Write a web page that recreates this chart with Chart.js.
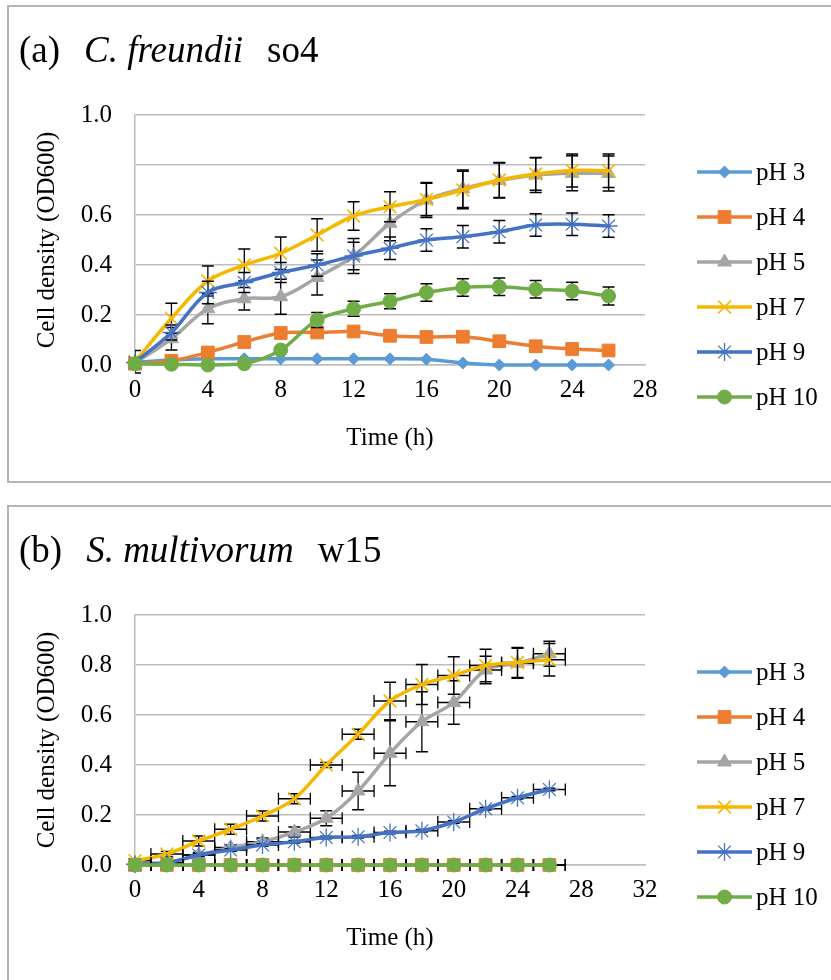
<!DOCTYPE html>
<html>
<head>
<meta charset="utf-8">
<script src="https://cdn.jsdelivr.net/npm/chart.js@4.4.1/dist/chart.umd.min.js"></script>
<style>
  body { margin: 0; width: 831px; height: 980px; overflow: hidden; background: #fff; position: relative; }
  .panel { position: absolute; left: 7px; width: 900px; border: 2px solid #b4b4b4; box-sizing: border-box; }
  canvas { position: absolute; left: 0; }
</style>
</head>
<body>
<div class="panel" style="top:5px; height:478px;"></div>
<div class="panel" style="top:505px; height:600px;"></div>
<canvas id="chartA" width="831" height="500" style="top:0px;"></canvas>
<canvas id="chartB" width="831" height="500" style="top:500px;"></canvas>
<script>
// sampling times (h)
const sampleTimes = [0, 2, 4, 6, 8, 10, 12, 14, 16, 18, 20, 22, 24, 26];
const seriesLabels = ['pH 3', 'pH 4', 'pH 5', 'pH 7', 'pH 9', 'pH 10'];

// (a) C. freundii so4 - OD600
const a_pH3  = [0.01, 0.02, 0.025, 0.025, 0.025, 0.025, 0.025, 0.025, 0.023, 0.008, 0, 0, 0, 0];
const a_pH4  = [0.005, 0.017, 0.05, 0.092, 0.128, 0.13, 0.134, 0.117, 0.112, 0.113, 0.095, 0.075, 0.064, 0.058];
const a_pH5  = [0.008, 0.105, 0.225, 0.265, 0.273, 0.35, 0.436, 0.567, 0.66, 0.705, 0.738, 0.76, 0.767, 0.766];
const a_pH7  = [0.013, 0.187, 0.336, 0.4, 0.447, 0.52, 0.596, 0.633, 0.662, 0.7, 0.74, 0.764, 0.778, 0.777];
const a_pH9  = [0.01, 0.13, 0.29, 0.33, 0.37, 0.4, 0.436, 0.467, 0.5, 0.513, 0.533, 0.56, 0.563, 0.556];
const a_pH10 = [0.005, 0.003, 0, 0.005, 0.06, 0.18, 0.225, 0.255, 0.29, 0.31, 0.313, 0.303, 0.296, 0.276];
// (a) standard deviations
const a_err5  = [0.01, 0.045, 0.06, 0.045, 0.07, 0.07, 0.07, 0.07, 0.07, 0.075, 0.07, 0.07, 0.07, 0.07];
const a_err7  = [0.045, 0.06, 0.06, 0.064, 0.065, 0.065, 0.057, 0.06, 0.065, 0.075, 0.07, 0.065, 0.066, 0.067];
const a_err9  = [0.02, 0.03, 0.045, 0.04, 0.04, 0.045, 0.055, 0.045, 0.045, 0.045, 0.045, 0.045, 0.045, 0.045];
const a_err10 = [0, 0, 0, 0, 0.01, 0.03, 0.03, 0.03, 0.035, 0.035, 0.035, 0.035, 0.035, 0.036];

// (b) S. multivorum w15 - OD600
const b_pH3  = [0, 0, 0, 0, 0, 0, 0, 0, 0, 0, 0, 0, 0, 0];
const b_pH4  = [0, 0, 0, 0, 0, 0, 0, 0, 0, 0, 0, 0, 0, 0];
const b_pH5  = [0.003, 0.01, 0.04, 0.07, 0.093, 0.132, 0.187, 0.296, 0.447, 0.573, 0.65, 0.78, 0.807, 0.845];
const b_pH7  = [0.017, 0.044, 0.096, 0.143, 0.196, 0.265, 0.4, 0.523, 0.656, 0.722, 0.758, 0.798, 0.81, 0.821];
const b_pH9  = [0.003, 0.008, 0.04, 0.06, 0.08, 0.093, 0.11, 0.113, 0.13, 0.137, 0.172, 0.225, 0.269, 0.302];
const b_pH10 = [0, 0, 0, 0, 0, 0, 0, 0, 0, 0, 0, 0, 0, 0];
const b_err5 = [0, 0.005, 0.01, 0.01, 0.015, 0.02, 0.03, 0.075, 0.13, 0.12, 0.087, 0.055, 0.06, 0.05];
const b_err7 = [0.005, 0.01, 0.02, 0.02, 0.02, 0.02, 0.01, 0.02, 0.075, 0.08, 0.075, 0.065, 0.06, 0.065];
const b_err9 = [0, 0.005, 0.005, 0.005, 0.005, 0.005, 0.005, 0.005, 0.005, 0.005, 0.005, 0.005, 0.005, 0.005];
const b_timeErr = 1; // +/- 1 h on every point

// tick labels
const a_yTicks = ['0.0', '0.2', '0.4', '0.6', '', '1.0'];
const b_yTicks = ['0.0', '0.2', '0.4', '0.6', '0.8', '1.0'];
const a_xTicks = ['0', '4', '8', '12', '16', '20', '24', '28'];
const b_xTicks = ['0', '4', '8', '12', '16', '20', '24', '28', '32'];

// Office-style series look
const seriesColors = ['#5B9BD5', '#ED7D31', '#A5A5A5', '#F5B800', '#4472C4', '#70AD47'];
const markers = [
    { style: 'rectRot', radius: 6, border: 1 },
    { style: 'rect', radius: 9, border: 1 },
    { style: 'triangle', radius: 8, border: 1 },
    { style: 'crossRot', radius: 9, border: 1.5 },
    { style: 'star', radius: 9, border: 1.3 },
    { style: 'circle', radius: 7, border: 1 }
];

const FONT = '"Liberation Serif", "Times New Roman", serif';
Chart.defaults.font.family = FONT;
Chart.defaults.font.size = 25;
Chart.defaults.color = '#000';

function makeDatasets(values, yErrs, xErr) {
    return values.map((vals, i) => ({
        label: seriesLabels[i],
        data: sampleTimes.map((t, k) => ({ x: t, y: vals[k] })),
        yErr: yErrs[i],
        xErr: xErr,
        borderColor: seriesColors[i],
        backgroundColor: seriesColors[i],
        borderWidth: 3.5,
        tension: 0.35,
        pointStyle: markers[i].style,
        pointRadius: markers[i].radius,
        pointBorderWidth: markers[i].border,
        pointBackgroundColor: seriesColors[i],
        pointBorderColor: seriesColors[i],
        order: values.length - i,   // later series on top, like Excel
        clip: false
    }));
}

// vertical / horizontal error bars, drawn just before each series (Excel puts them under the line)
const errorBarPlugin = {
    id: 'errorBars',
    beforeDatasetDraw(chart, args) {
        const ds = chart.data.datasets[args.index];
        const xs = chart.scales.x, ys = chart.scales.y, area = chart.chartArea;
        const ctx = chart.ctx;
        const cap = 6;
        ctx.save();
        ctx.beginPath();
        ctx.rect(area.left, 0, chart.width - area.left, chart.height);
        ctx.clip();
        ctx.strokeStyle = '#000';
        ctx.lineWidth = 1.3;
        ds.data.forEach((p, i) => {
            const px = xs.getPixelForValue(p.x);
            const py = ys.getPixelForValue(p.y);
            const ey = ds.yErr ? ds.yErr[i] : 0;
            ctx.beginPath();
            if (ey > 0) {
                const y1 = ys.getPixelForValue(p.y + ey);
                const y2 = ys.getPixelForValue(p.y - ey);
                ctx.moveTo(px, y1); ctx.lineTo(px, y2);
                ctx.moveTo(px - cap, y1); ctx.lineTo(px + cap, y1);
                ctx.moveTo(px - cap, y2); ctx.lineTo(px + cap, y2);
            }
            if (ds.xErr) {
                const x1 = xs.getPixelForValue(p.x - ds.xErr);
                const x2 = xs.getPixelForValue(p.x + ds.xErr);
                ctx.moveTo(x1, py); ctx.lineTo(x2, py);
                ctx.moveTo(x1, py - cap); ctx.lineTo(x1, py + cap);
                ctx.moveTo(x2, py - cap); ctx.lineTo(x2, py + cap);
            }
            ctx.stroke();
        });
        ctx.restore();
    }
};

// legend on the right: line + marker + label
const sideLegendPlugin = {
    id: 'sideLegend',
    afterDraw(chart) {
        const ctx = chart.ctx;
        chart.data.datasets.forEach((ds, i) => {
            const y = 172 + 45 * i;
            ctx.save();
            ctx.strokeStyle = ds.borderColor;
            ctx.lineWidth = ds.borderWidth;
            ctx.beginPath();
            ctx.moveTo(697, y);
            ctx.lineTo(752, y);
            ctx.stroke();
            ctx.fillStyle = ds.pointBackgroundColor;
            ctx.strokeStyle = ds.pointBorderColor;
            ctx.lineWidth = ds.pointBorderWidth;
            Chart.helpers.drawPoint(ctx, {
                pointStyle: ds.pointStyle,
                radius: ds.pointRadius,
                rotation: 0,
                borderWidth: ds.pointBorderWidth
            }, 724.5, y);
            ctx.fillStyle = '#000';
            ctx.font = '25px ' + FONT;
            ctx.textAlign = 'left';
            ctx.textBaseline = 'middle';
            ctx.fillText(ds.label, 756, y + 1);
            ctx.restore();
        });
    }
};

function titlePlugin(parts) {
    return {
        id: 'panelTitle',
        afterDraw(chart) {
            const ctx = chart.ctx;
            let x = 19;
            ctx.save();
            ctx.fillStyle = '#000';
            ctx.textBaseline = 'alphabetic';
            parts.forEach(([text, italic]) => {
                ctx.font = (italic ? 'italic ' : '') + '37px ' + FONT;
                ctx.fillText(text, x, 62);
                x += ctx.measureText(text).width + 24;
            });
            ctx.restore();
        }
    };
}

function buildChart(canvasId, datasets, xMax, xTicks, yTicks, title) {
    return new Chart(document.getElementById(canvasId), {
        type: 'line',
        data: { datasets: datasets },
        options: {
            responsive: false,
            animation: false,
            events: [],
            layout: { padding: { left: 0, top: 115, right: 186, bottom: 0 } },
            plugins: { legend: { display: false }, tooltip: { enabled: false } },
            scales: {
                x: {
                    type: 'linear',
                    min: 0,
                    max: xMax,
                    afterFit: function(scale) { scale.height = 135; },
                    grid: { display: false, drawTicks: false },
                    border: { display: true, color: '#bdbdbd', width: 1.5 },
                    ticks: {
                        stepSize: 4,
                        padding: 10,
                        maxRotation: 0,
                        callback: function(value, index) { return xTicks[index]; }
                    },
                    title: {
                        display: true,
                        text: 'Time (h)',
                        padding: { top: 0, bottom: 47 }
                    }
                },
                y: {
                    min: 0,
                    max: 1,
                    afterFit: function(scale) { scale.width = 135; },
                    grid: { color: '#bdbdbd', lineWidth: 1.5, drawTicks: false },
                    border: { display: true, color: '#bdbdbd', width: 1.5 },
                    ticks: {
                        stepSize: 0.2,
                        padding: 23,
                        callback: function(value, index) { return yTicks[index]; }
                    },
                    title: {
                        display: true,
                        text: 'Cell density (OD600)',
                        padding: { top: 32, bottom: 0 }
                    }
                }
            }
        },
        plugins: [errorBarPlugin, sideLegendPlugin, titlePlugin(title)]
    });
}

buildChart('chartA',
    makeDatasets([a_pH3, a_pH4, a_pH5, a_pH7, a_pH9, a_pH10], [null, null, a_err5, a_err7, a_err9, a_err10], 0),
    28, a_xTicks, a_yTicks,
    [['(a)', false], ['C. freundii', true], ['so4', false]]);

buildChart('chartB',
    makeDatasets([b_pH3, b_pH4, b_pH5, b_pH7, b_pH9, b_pH10], [null, null, b_err5, b_err7, b_err9, null], b_timeErr),
    32, b_xTicks, b_yTicks,
    [['(b)', false], ['S. multivorum', true], ['w15', false]]);
</script>
</body>
</html>
